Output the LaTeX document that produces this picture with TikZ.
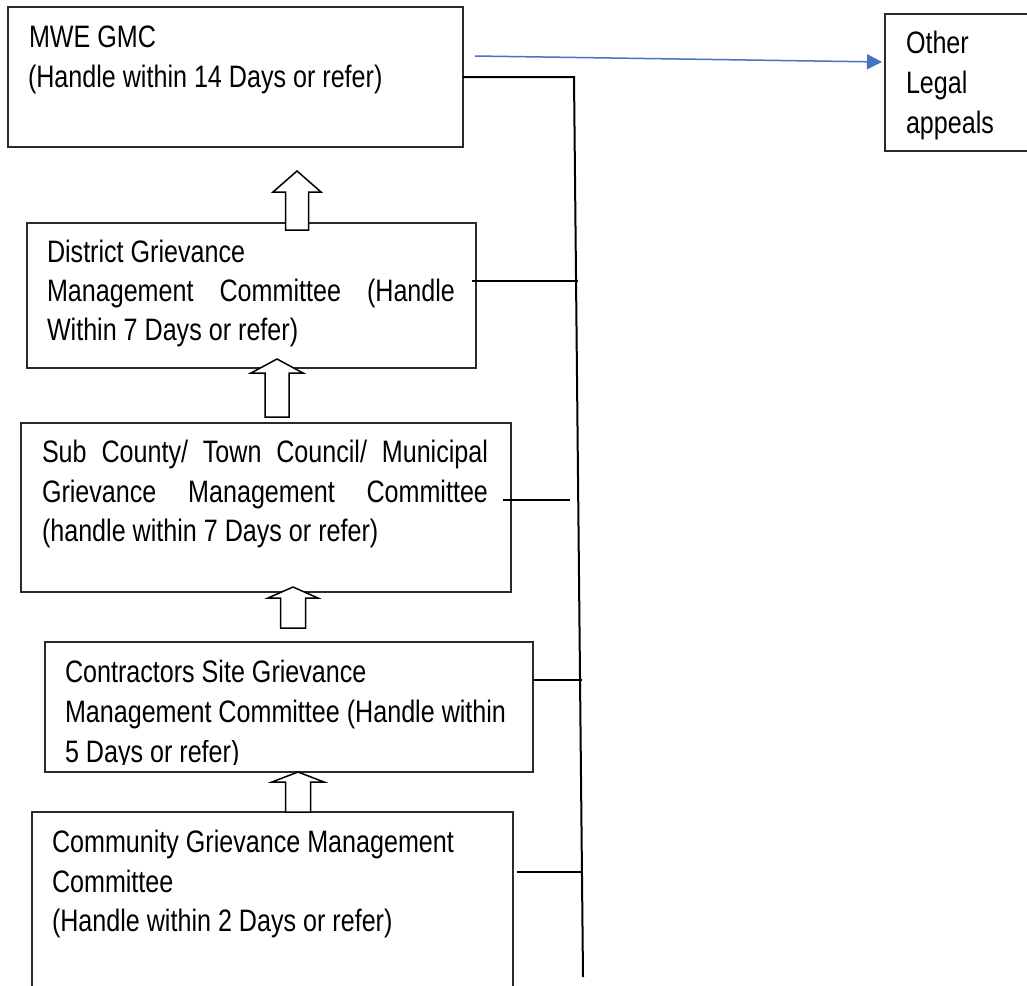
\documentclass[tikz,border=0pt]{standalone}
\usepackage{fontspec}
\setmainfont[FakeStretch=0.81]{Liberation Sans}
\usetikzlibrary{arrows.meta,calc}
\definecolor{linkblue}{HTML}{4472C4}
\definecolor{boxline}{HTML}{2A2A2A}
\newcommand{\blkarrow}[6]{%
  \draw[blkarrow] (#1,#2) -- ({#1+#5},#3) -- ({#1+#6},#3) -- ({#1+#6},#4) -- ({#1-#6},#4) -- ({#1-#6},#3) -- ({#1-#5},#3) -- cycle;}
\begin{document}
\begin{tikzpicture}[x=1pt,y=-1pt,
  boxnode/.style={draw=boxline,line width=1.3pt,fill=white,rectangle,anchor=north west,inner sep=0pt,outer sep=0pt},
  txt/.style={anchor=base west,inner sep=0pt,outer sep=0pt,font=\fontsize{31}{39.5}\selectfont},
  conn/.style={draw=black,line width=1.7pt},
  vline/.style={draw=black,line width=2pt},
  bluearrow/.style={draw=linkblue,line width=1.5pt,-{Triangle[length=15pt,width=15pt]}},
  blkarrow/.style={draw=black,line width=1.5pt,fill=white,line join=miter}]
\useasboundingbox (0,0) rectangle (1027,985);
\fill[white] (0,0) rectangle (1027,985);

% boxes
\node[boxnode,minimum width=455pt,minimum height=140pt] (mwe) at (8,7) {};
\node[boxnode,minimum width=160pt,minimum height=137pt] (other) at (885,14) {};
\node[boxnode,minimum width=449pt,minimum height=145pt] (district) at (27,223) {};
\node[boxnode,minimum width=490pt,minimum height=169pt] (subc) at (21,423) {};
\node[boxnode,minimum width=488pt,minimum height=130pt] (contr) at (45,642) {};
\node[boxnode,minimum width=481pt,minimum height=200pt] (comm) at (32,812) {};

% texts
\node[txt] (t1a) at (29,47) {MWE GMC};
\node[txt] (t1b) at (28,87) {(Handle within 14 Days or refer)};

\node[txt] (t2a) at (906,53) {Other};
\node[txt] (t2b) at (906,93) {Legal};
\node[txt] (t2c) at (906,133) {appeals};

\node[txt] (t3a) at (47,262) {District Grievance};
\node[txt] (t3b) at (47,301) {\makebox[408pt][s]{Management Committee (Handle}};
\node[txt] (t3c) at (47,340) {Within 7 Days or refer)};

\node[txt] (t4a) at (42,462) {\makebox[446pt][s]{Sub County/ Town Council/ Municipal}};
\node[txt] (t4b) at (42,502) {\makebox[446pt][s]{Grievance Management Committee}};
\node[txt] (t4c) at (42,541) {(handle within 7 Days or refer)};

\node[txt] (t5a) at (65,682) {Contractors Site Grievance};
\node[txt] (t5b) at (65,722) {Management Committee (Handle within};
\begin{scope}
  \clip (45,740) rectangle (533,764);
  \node[txt] (t5c) at (65,762) {5 Days or refer)};
\end{scope}

\node[txt] (t6a) at (52,852) {Community Grievance Management};
\node[txt] (t6b) at (52,892) {Committee};
\node[txt] (t6c) at (52,931) {(Handle within 2 Days or refer)};

% block arrows
\blkarrow{297}{171}{192}{230}{24}{11.5}
\blkarrow{277}{359}{373}{417}{26}{12}
\blkarrow{293}{587}{598}{628}{25}{12.5}
\blkarrow{298}{772}{782}{812}{26}{12.5}

% right-hand connectors
\coordinate (vtop) at (574,77);
\coordinate (vbot) at (583,977);
\draw[vline] (mwe.east) -- (vtop) -- (vbot);
\coordinate (c2) at (578,281);
\draw[conn] ([xshift=-4pt]district.east |- c2) -- (c2);
\coordinate (c3) at (570,500);
\draw[conn] ([xshift=-8pt]subc.east |- c3) -- (c3);
\coordinate (c4) at (582,680);
\draw[conn] (contr.east |- c4) -- (c4);
\coordinate (c5) at (583,872);
\draw[conn] ([xshift=4pt]comm.east |- c5) -- (c5);

% blue arrow
\coordinate (bs) at (475,56);
\draw[bluearrow] (bs) -- ([xshift=-3pt]other.west |- 0,62);
\end{tikzpicture}
\end{document}
